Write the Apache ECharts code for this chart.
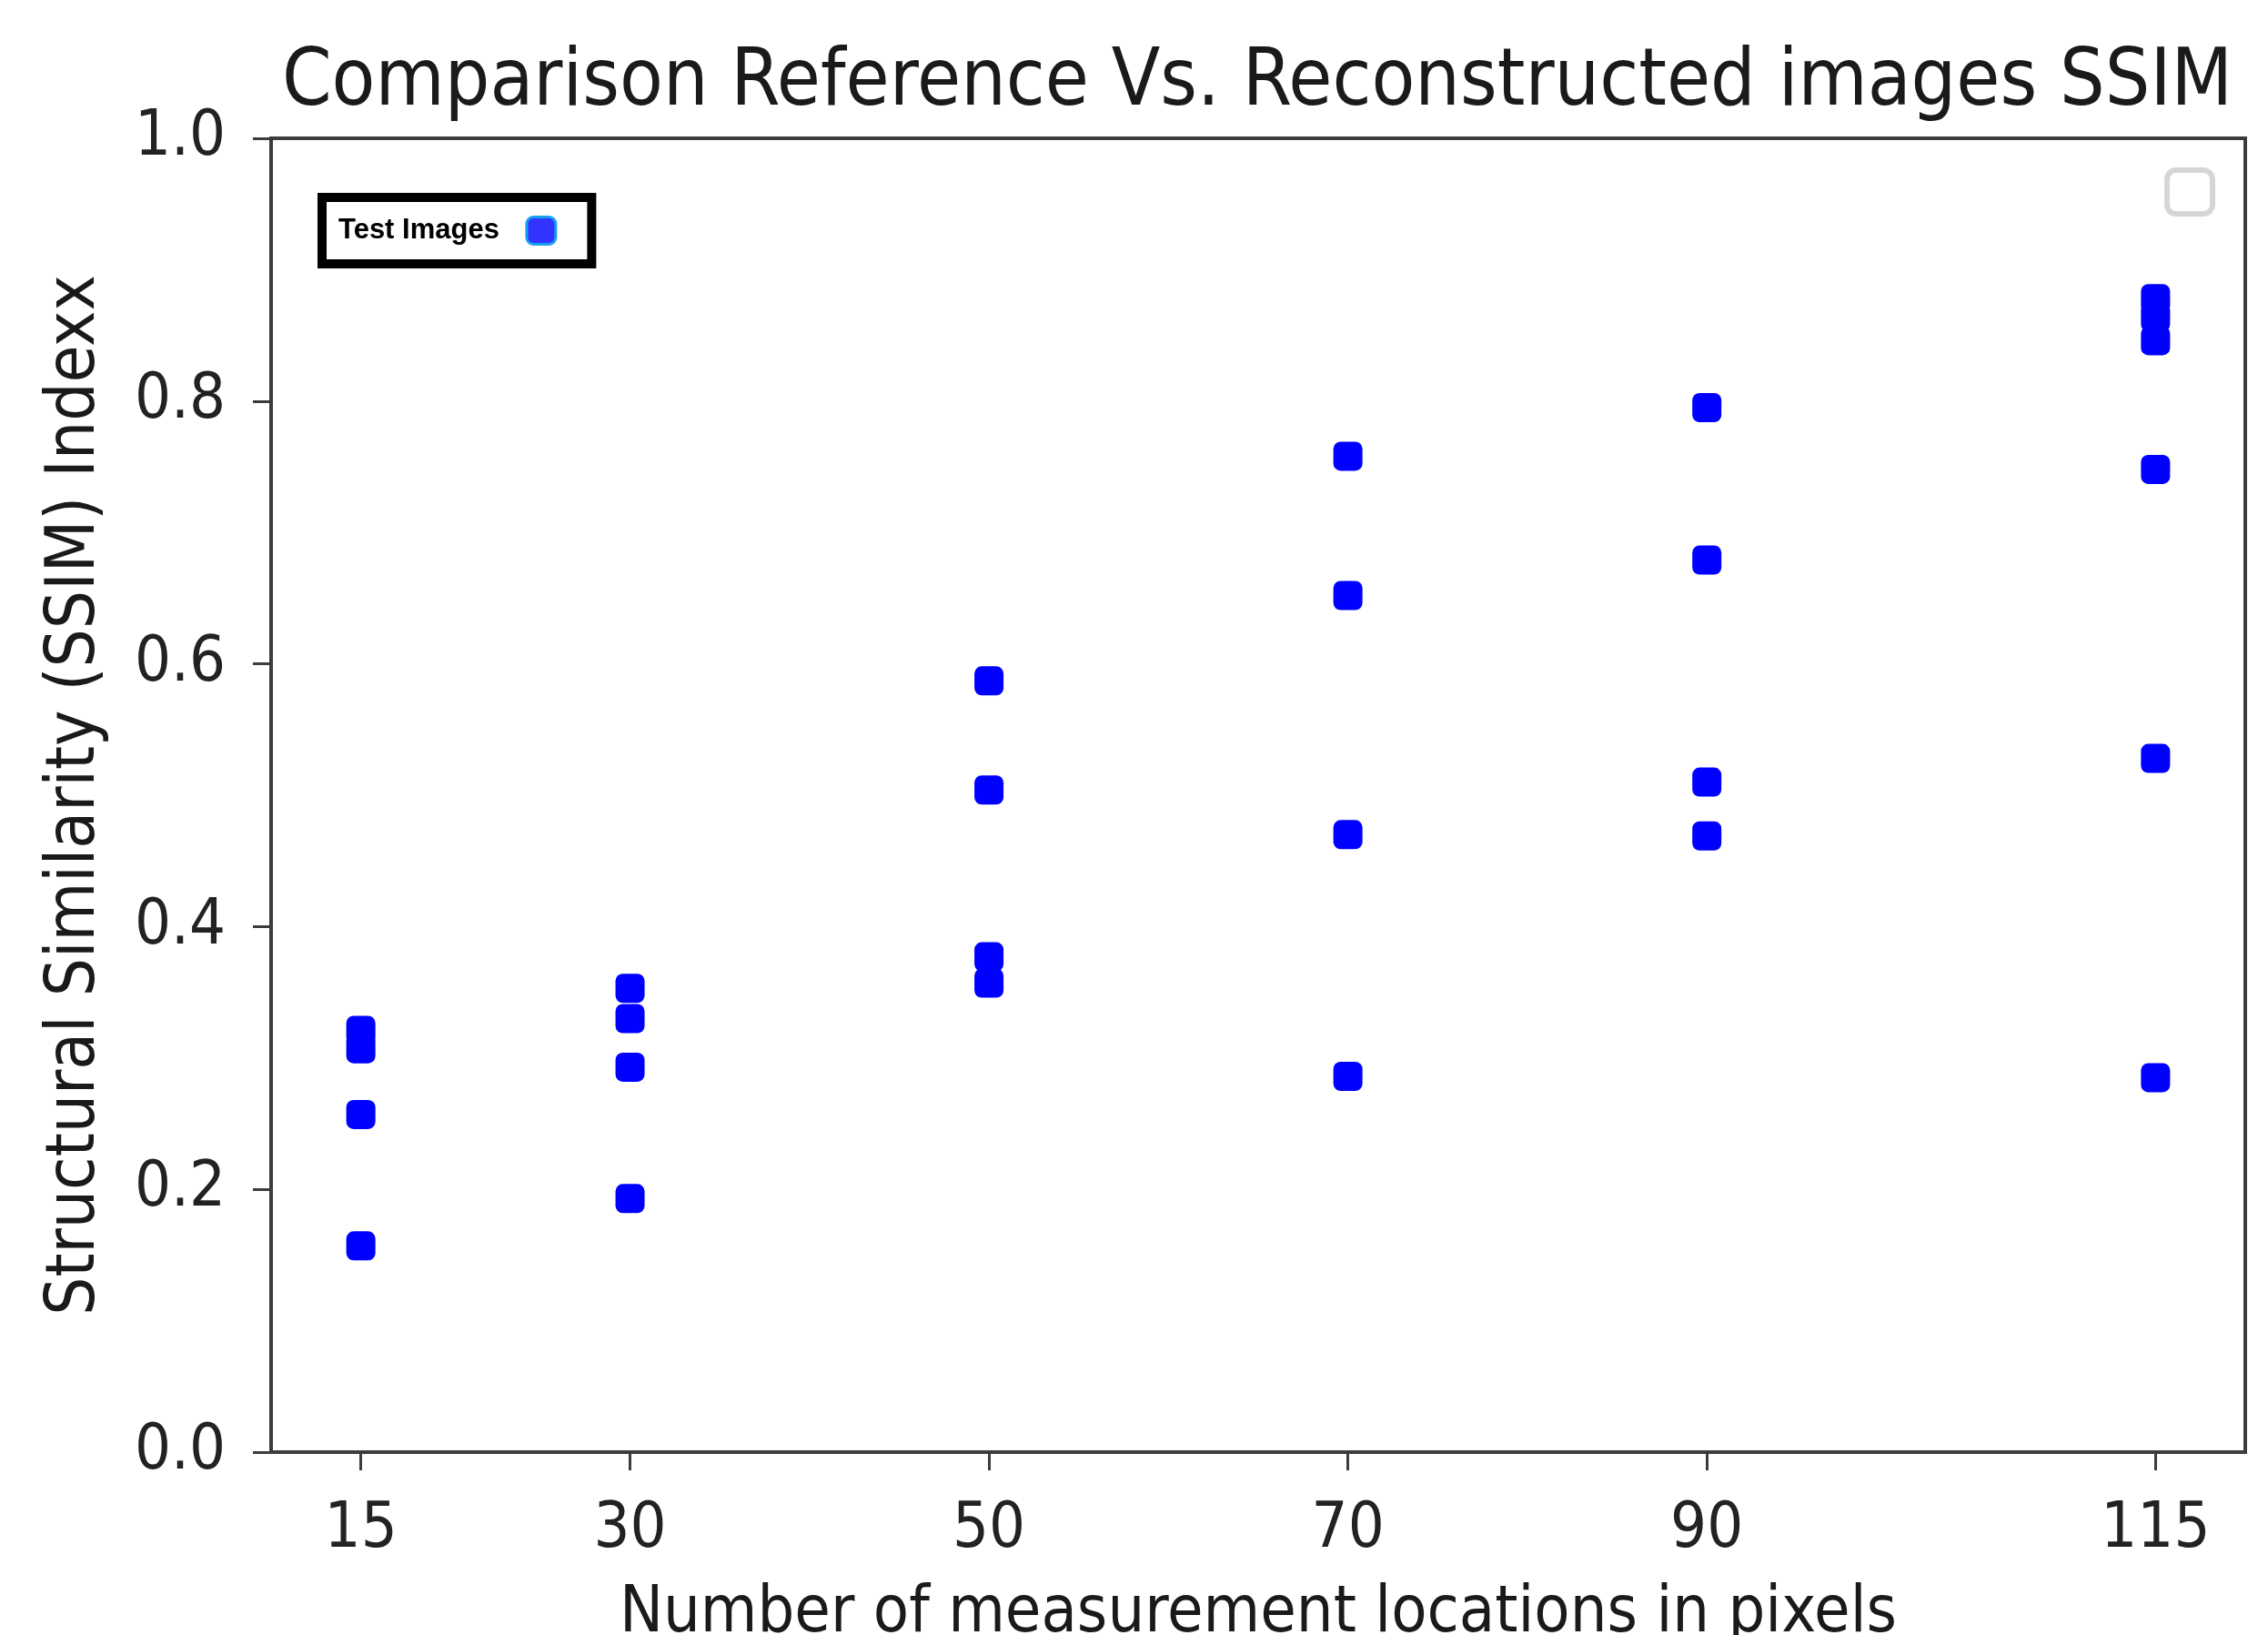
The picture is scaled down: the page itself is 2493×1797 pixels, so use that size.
<!DOCTYPE html>
<html>
<head>
<meta charset="utf-8">
<script src="https://cdn.jsdelivr.net/npm/echarts@6/dist/echarts.min.js"></script>
<style>
html,body{margin:0;padding:0;background:#fff;}
#chart{width:2493px;height:1797px;}
</style>
</head>
<body>
<div id="chart"></div>
<script>
// ---- data ----
const chartTitle = 'Comparison Reference Vs. Reconstructed images SSIM';
const xAxisName = 'Number of measurement locations in pixels';
const yAxisName = 'Structural Similarity (SSIM) Indexx';
const seriesName = 'Test Images';
const xTicks = [15, 30, 50, 70, 90, 115];
const yTicks = [0.0, 0.2, 0.4, 0.6, 0.8, 1.0];
const ssimAt15 = [0.321, 0.307, 0.257, 0.157];
const ssimAt30 = [0.353, 0.330, 0.293, 0.193];
const ssimAt50 = [0.587, 0.504, 0.377, 0.357];
const ssimAt70 = [0.758, 0.652, 0.470, 0.286];
const ssimAt90 = [0.795, 0.679, 0.510, 0.469];
const ssimAt115 = [0.878, 0.864, 0.846, 0.748, 0.528, 0.285];

const groups = [ssimAt15, ssimAt30, ssimAt50, ssimAt70, ssimAt90, ssimAt115];
const points = [];
groups.forEach((vals, i) => vals.forEach(v => points.push([xTicks[i], v])));

const FONT = '"DejaVu Sans Condensed", "DejaVu Sans", sans-serif';
const chart = echarts.init(document.getElementById('chart'), null, {renderer: 'canvas'});
chart.setOption({
  backgroundColor: '#ffffff',
  animation: false,
  title: {
    text: chartTitle,
    left: 1377,
    textAlign: 'center',
    top: 44,
    textStyle: {fontFamily: FONT, fontSize: 87, fontWeight: 'normal', color: '#1a1a1a'}
  },
  legend: {
    show: true,
    data: [seriesName],
    left: 354,
    top: 217,
    align: 'right',
    orient: 'horizontal',
    padding: [20, 38, 20, 18],
    borderColor: '#000',
    borderWidth: 10,
    backgroundColor: '#fff',
    itemWidth: 32,
    itemHeight: 30,
    icon: 'roundRect',
    itemStyle: {color: '#3333ff', borderColor: '#18a0f0', borderWidth: 3},
    textStyle: {fontFamily: '"Liberation Sans", Arial, sans-serif', fontWeight: 'bold', fontSize: 31, color: '#000', padding: [0, 25, 0, 0]}
  },
  grid: {
    left: 298, right: 25, top: 152, bottom: 201,
    outerBoundsMode: 'none',
    containLabel: false,
    show: true, borderColor: '#3c3c3c', borderWidth: 4, backgroundColor: 'transparent'
  },
  xAxis: {
    type: 'value',
    min: 10, max: 120,
    name: xAxisName,
    nameLocation: 'middle',
    nameGap: 142,
    nameTextStyle: {fontFamily: FONT, fontSize: 71.5, color: '#1a1a1a'},
    axisLine: {show: true, onZero: false, lineStyle: {color: '#3c3c3c', width: 4}},
    axisTick: {show: true, inside: false, length: 20, customValues: xTicks, lineStyle: {color: '#3c3c3c', width: 3}},
    axisLabel: {show: true, customValues: xTicks, margin: 51, fontFamily: FONT, fontSize: 70, color: '#222'},
    splitLine: {show: false}
  },
  yAxis: {
    type: 'value',
    min: 0, max: 1, interval: 0.2,
    name: yAxisName,
    nameLocation: 'middle',
    nameGap: 177,
    nameRotate: 90,
    nameTextStyle: {fontFamily: FONT, fontSize: 74, color: '#1a1a1a'},
    axisLine: {show: true, onZero: false, lineStyle: {color: '#3c3c3c', width: 4}},
    axisTick: {show: true, inside: false, length: 20, lineStyle: {color: '#3c3c3c', width: 3}},
    axisLabel: {show: true, margin: 50, fontFamily: FONT, fontSize: 70, color: '#222', formatter: v => v.toFixed(1)},
    splitLine: {show: false}
  },
  graphic: [{
    type: 'rect',
    shape: {x: 2382, y: 187, width: 50, height: 48, r: 10},
    style: {fill: 'none', stroke: '#d6d6d6', lineWidth: 6},
    z: 10
  }],
  series: [{
    name: seriesName,
    type: 'scatter',
    symbol: 'roundRect',
    symbolSize: 32,
    itemStyle: {color: '#0000ff', opacity: 1},
    data: points,
    z: 5
  }]
});
</script>
</body>
</html>
